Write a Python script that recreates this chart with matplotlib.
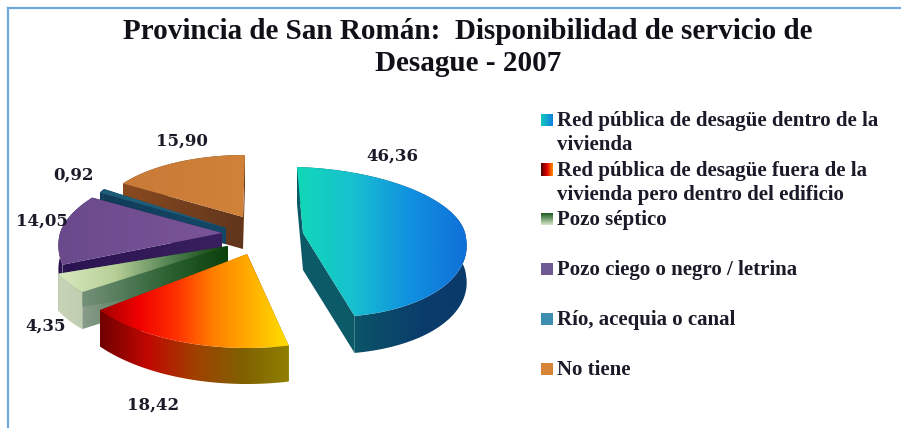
import numpy as np
import matplotlib
matplotlib.use("Agg")
import matplotlib.pyplot as plt
from matplotlib.colors import LinearSegmentedColormap as LSC
from matplotlib.patches import Polygon

title_lines = ["Provincia de San Román:  Disponibilidad de servicio de", "Desague - 2007"]
categories = ["Red pública de desagüe dentro de la\nvivienda",
              "Red pública de desagüe fuera de la\nvivienda pero dentro del edificio",
              "Pozo séptico", "Pozo ciego o negro / letrina", "Río, acequia o canal", "No tiene"]
values = [46.36, 18.42, 4.35, 14.05, 0.92, 15.90]
value_labels = ["46,36", "18,42", "4,35", "14,05", "0,92", "15,90"]

# style / layout: apex (cx, cy), A (sin axis), B far half, B near half (cos axis), depth
shapes = [
    ((303, 233), (163, 5), (-6, -66), (-15, -84), 37),
    ((247, 254), (184, 0), (0, -94), (0, -94), 36),
    ((228, 246), (182, 0), (0, -77), (0, -77), 37),
    ((222, 233), (162, 0), (23, -72), (23, -88), 24),
    ((226, 228), (145, 0), (0, -72), (0, -72), 16),
    ((243, 217), (144, 0), (2, -62), (2, -62), 32),
]
label_pos = [(392, 156), (153, 405), (46, 326), (42, 221), (74, 175), (182, 141)]
legend_y = [120, 170, 219, 269, 319, 369]
top_cmaps = [["#10d8b8", "#18c0d0", "#1090e0", "#1070d8"],
             ["#a00000", "#f00000", "#ff3000", "#ff8000", "#ffb000", "#ffe000"],
             ["#d8e8c0", "#b8d098", "#508050", "#0c400c"],
             ["#6a4a8c", "#7a5498"], ["#1d5d78", "#1d5d78"], ["#c87a38", "#d08238"]]
rim_cmaps = [["#0c5a68", "#0c5a68", "#0a4a68", "#0a3c6c", "#0a3a6a"],
             ["#700000", "#c00800", "#a04000", "#806000", "#908000"],
             ["#c8d4b8", "#c0ceb0"],
             ["#2a1450", "#3a2060"], ["#103c58", "#154868"], ["#8a4a20", "#60351c"]]
cut_cmaps = [["#0c5a68", "#0c5a68"],
             ["#700000", "#908000"],
             ["#8a9c8a", "#5a8060", "#2a6030", "#0c400c"],
             ["#2a1450", "#3a2060"], ["#103c58", "#154868"], ["#8a4a20", "#60351c"]]
legend_cmaps = [(["#10c8c0", "#1080e0"], 0), (["#500000", "#e00000", "#ff9000"], 0),
                (["#1a5a20", "#d8e8c8"], 1), (["#6f5a94", "#6f5a94"], 0),
                (["#3d8fb0", "#3d8fb0"], 0), (["#d88438", "#d88438"], 0)]

fig = plt.figure(figsize=(9.01, 4.28), dpi=100)
ax = fig.add_axes([0, 0, 1, 1])
ax.set_axis_off()


def fill(xs, ys, cmap, z):
    poly = Polygon(np.column_stack([xs, ys]), closed=True, transform=ax.transData,
                   facecolor="none", edgecolor="none")
    ax.add_patch(poly)
    grad = np.linspace(0, 1, 256).reshape(1, -1)
    im = ax.imshow(grad, cmap=LSC.from_list("c", cmap), aspect="auto", zorder=z,
                   extent=(min(xs), max(xs), max(ys), min(ys)), interpolation="bilinear")
    im.set_clip_path(poly)


angles = np.cumsum([0] + values) / sum(values) * 2 * np.pi
for k, i in enumerate([5, 4, 3, 2, 1, 0]):
    (cx, cy), A, Bf, Bn, H = shapes[i]
    t = np.linspace(angles[i], angles[i + 1], 120)
    c, s = np.cos(t), np.sin(t)
    bx = np.where(c >= 0, Bf[0], Bn[0])
    by = np.where(c >= 0, Bf[1], Bn[1])
    xt = cx + A[0] * s + bx * c
    yt = cy + A[1] * s + by * c
    yb = yt + H
    z = 2 + k
    for e in (0, -1):
        fill(np.array([cx, xt[e], xt[e], cx]), np.array([cy, yt[e], yb[e], cy + H]), cut_cmaps[i], z)
    fill(np.r_[xt, xt[::-1]], np.r_[yt, yb[::-1]], rim_cmaps[i], z + 0.1)
    fill(np.r_[cx, xt], np.r_[cy, yt], top_cmaps[i], z + 0.2)

for (x, y), s in zip(label_pos, value_labels):
    ax.text(x, y, s, fontsize=12, ha="center", va="center", zorder=20,
            family="DejaVu Serif", weight="bold", color="#1a1a28")

for y, s in zip((31, 63), title_lines):
    ax.text(468, y, s, fontsize=21, ha="center", va="center", family="Liberation Serif",
            weight="bold", color="#101018", zorder=20)

for y, s, (cm, vert) in zip(legend_y, categories, legend_cmaps):
    g = np.linspace(0, 1, 64).reshape(-1, 1) if vert else np.linspace(0, 1, 64).reshape(1, -1)
    ax.imshow(g, cmap=LSC.from_list("l", cm), aspect="auto", extent=(541, 553, y + 6, y - 6), zorder=20)
    ax.text(557, y - 9, s, fontsize=15, ha="left", va="top", linespacing=1.26, zorder=20,
            family="Liberation Serif", weight="bold", color="#1a1a28")

ax.plot([8, 8], [428, 8], color="#6fa8dc", lw=1.6, zorder=21)
ax.plot([8, 901], [8, 8], color="#6fa8dc", lw=1.6, zorder=21)
ax.set_xlim(0, 901)
ax.set_ylim(428, 0)
fig.savefig("out.png", dpi=100)
